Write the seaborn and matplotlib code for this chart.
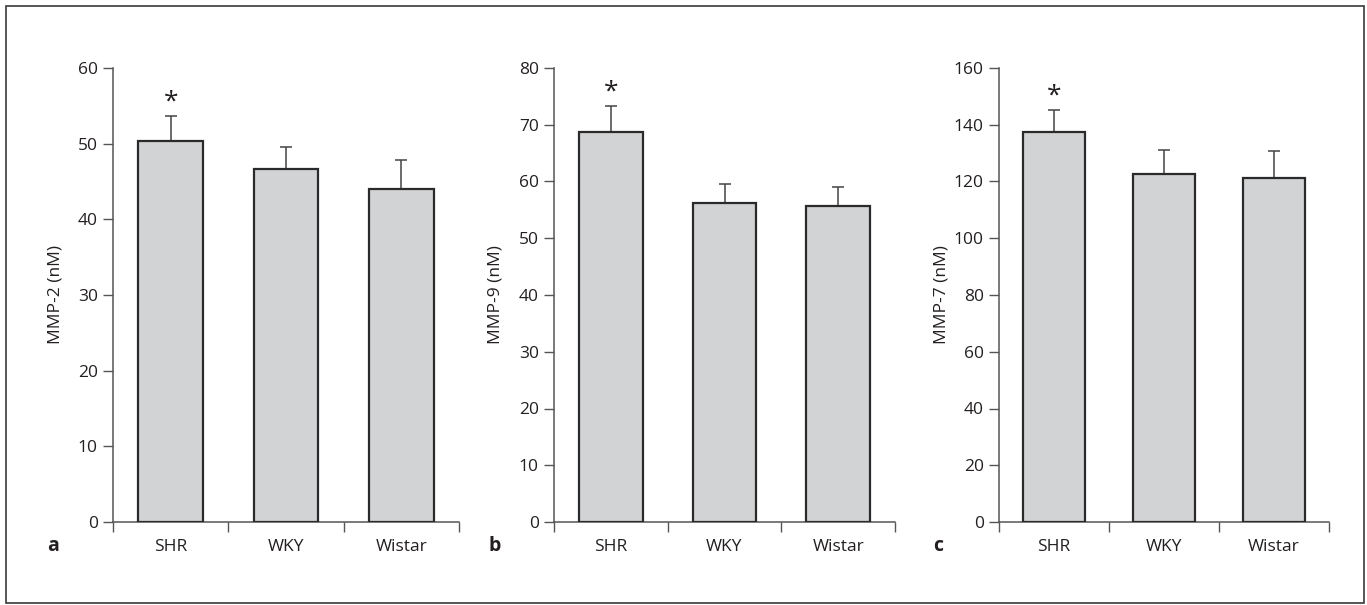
import pandas as pd
import seaborn as sns
import matplotlib.pyplot as plt

# Data
groups = ["SHR", "WKY", "Wistar"]
mmp2_mean = [50.3, 46.6, 44.0]
mmp2_sem = [3.4, 3.0, 3.8]
mmp9_mean = [68.8, 56.2, 55.7]
mmp9_sem = [4.5, 3.3, 3.3]
mmp7_mean = [137.5, 122.8, 121.3]
mmp7_sem = [7.6, 8.2, 9.5]

ylabels = ["MMP-2 (nM)", "MMP-9 (nM)", "MMP-7 (nM)"]
yticks = [range(0, 61, 10), range(0, 81, 10), range(0, 161, 20)]
letters = ["a", "b", "c"]

sns.set_style("ticks")
plt.rcParams["font.family"] = ["Open Sans", "DejaVu Sans"]
text_col = "#231f20"
axis_col = "#555555"

fig = plt.figure(figsize=(13.67, 6.05), dpi=100)

# Axes positions in pixels (left, width)
W, H = 1367, 605
boxes = [(113, 346), (554, 341), (999, 330)]
bottom_px, top_px = 522, 68

panels = [(mmp2_mean, mmp2_sem), (mmp9_mean, mmp9_sem), (mmp7_mean, mmp7_sem)]

for i, ((means, sems), (left, width)) in enumerate(zip(panels, boxes)):
    ax = fig.add_axes([left / W, (H - bottom_px) / H, width / W, (bottom_px - top_px) / H])
    df = pd.DataFrame({"group": groups, "value": means})
    sns.barplot(data=df, x="group", y="value", color="#d1d3d4", edgecolor="#2a2a2a",
                linewidth=1.6, width=0.56, saturation=1, ax=ax, zorder=3)
    ax.errorbar(range(len(groups)), means, yerr=[[0] * len(sems), sems], fmt="none",
                ecolor="#444444", elinewidth=1.1, capsize=4.3, capthick=1.1, zorder=2)

    # asterisk over SHR
    ax.annotate("*", xy=(0, means[0] + sems[0]), xytext=(0, 1), textcoords="offset points",
                ha="center", va="bottom", fontsize=19, color=text_col)

    ax.set_xlim(-0.5, 2.5)
    ax.set_ylim(0, max(yticks[i]))
    ax.set_yticks(list(yticks[i]))
    ax.set_xticks([-0.5, 0.5, 1.5, 2.5])
    ax.set_xticklabels([])
    ax.set_xticks(range(len(groups)), minor=True)
    ax.set_xticklabels(groups, minor=True)
    ax.tick_params(axis="x", which="minor", length=0, pad=12, labelsize=12.5, labelcolor=text_col)
    ax.tick_params(axis="x", which="major", length=7, width=1, color=axis_col, direction="out")
    ax.tick_params(axis="y", length=7, width=1, color=axis_col, direction="out",
                   labelsize=12.5, labelcolor=text_col, pad=4)

    sns.despine(ax=ax)
    for s in ["left", "bottom"]:
        ax.spines[s].set_color(axis_col)
        ax.spines[s].set_linewidth(1.1)

    ax.set_xlabel("")
    ax.set_ylabel(ylabels[i], fontsize=12.5, color=text_col)
    ax.yaxis.set_label_coords(-50 / width, 0.5)

    ax.text(-66 / width, -24 / (bottom_px - top_px), letters[i], transform=ax.transAxes,
            ha="left", va="center", fontsize=14, fontweight="bold", color=text_col)

# outer frame
frame = plt.Rectangle((6 / W, 2 / H), 1358 / W, 597 / H, transform=fig.transFigure,
                      fill=False, edgecolor="#3a3a3a", linewidth=1.2)
fig.patches.append(frame)

fig.savefig("out.png", dpi=100)
